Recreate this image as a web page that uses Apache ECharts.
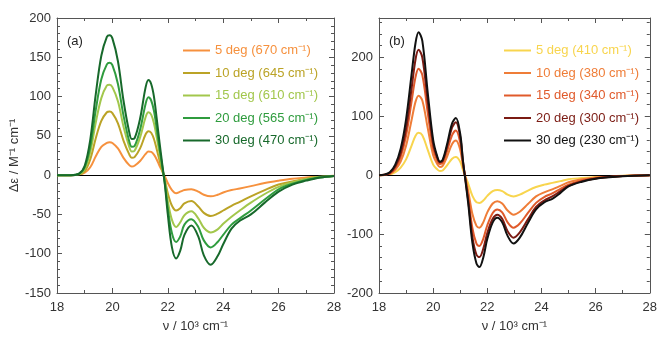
<!DOCTYPE html>
<html>
<head>
<meta charset="utf-8">
<script src="https://cdn.jsdelivr.net/npm/echarts@6/dist/echarts.min.js"></script>
<style>
  html, body { margin: 0; padding: 0; background: #fff; }
  #chart { width: 660px; height: 338px; }
</style>
</head>
<body>
<div id="chart"></div>
<script>
// panel (a) wavenumber grid, 10^3 cm^-1
const xL = [18, 18.5, 18.8, 19, 19.2, 19.4, 19.6, 19.8, 19.9, 20, 20.2, 20.4, 20.6, 20.7, 20.8, 21, 21.2, 21.3, 21.4, 21.5,
  21.6, 21.7, 21.8, 21.9, 22, 22.15, 22.3, 22.45, 22.6, 22.85, 23.1, 23.3, 23.55, 23.8, 24, 24.3, 24.6, 25, 25.5, 26,
  26.5, 27, 27.5, 28];
const a5 = [0, 0, 0.5, 3, 10, 24, 36, 41, 42, 41, 34, 22, 13, 11, 12, 18, 27, 30, 29.5, 26,
  20, 12, 5, -2, -10, -19, -23, -21, -19, -18, -21, -25, -27, -25, -22, -19, -17, -14, -10, -7,
  -4.5, -3, -1.5, -0.8];
const a10 = [0, 0, 1, 5, 20, 47, 69, 80, 81, 79, 66, 44, 27, 22, 23, 34, 52, 56, 54, 46,
  33, 19, 6, -7, -23, -39, -45, -42, -36, -33, -40, -48, -52, -49, -45, -39, -34, -27, -19, -12,
  -8, -4.5, -2, -1];
const a15 = [0, 0, 1, 8, 29, 67, 98, 114, 115, 112, 94, 62, 37, 30, 31, 48, 74, 80, 77, 66,
  48, 28, 9, -9, -33, -57, -66, -60, -51, -46, -55, -67, -73, -69, -62, -53, -45, -35, -24, -15,
  -9, -5, -2, -1];
const a20 = [0, 0, 2, 10, 36, 83, 122, 141, 143, 140, 116, 76, 44, 36, 37, 58, 91, 99, 95, 82,
  59, 34, 11, -12, -42, -74, -85, -78, -63, -56, -66, -83, -92, -85, -76, -63, -55, -45, -31, -18,
  -11, -6, -3, -1];
const a30 = [0, 0, 2, 12, 45, 103, 152, 176, 178, 174, 145, 95, 56, 46, 47, 72, 112, 121, 116, 100,
  72, 42, 14, -14, -50, -92, -106, -96, -76, -64, -78, -102, -114, -103, -88, -68, -58, -50, -35, -21,
  -12, -7, -3, -1];

// panel (b)
const xR = [18, 18.2, 18.4, 18.6, 18.8, 19, 19.2, 19.35, 19.46, 19.6, 19.8, 20, 20.15, 20.25, 20.35, 20.5, 20.7, 20.84,
  21, 21.1, 21.2, 21.3, 21.45, 21.6, 21.71, 21.85, 22, 22.2, 22.37, 22.55, 22.75, 22.97, 23.2, 23.5, 23.8, 24.1,
  24.4, 24.7, 25, 25.5, 26, 26.5, 27, 27.5, 28];
const b5 = [0, 0.3, 1, 5, 13, 27, 50, 67, 72, 68, 43, 18, 10, 7, 8, 16, 28, 31,
  23, 9, -3, -15, -35, -46, -47, -43, -35, -27, -25, -27, -33, -36, -33, -26, -20, -16,
  -13, -10, -7, -4.5, -3, -1.8, -1, -0.4, 0];
const b10 = [0, 0.5, 2, 9, 23, 50, 93, 125, 135, 127, 80, 34, 19, 14, 16, 30, 53, 59,
  43, 16, -6, -28, -66, -86, -89, -80, -63, -48, -44, -48, -60, -67, -62, -49, -36, -29,
  -24, -18, -12, -7, -4, -2.2, -1.1, -0.5, 0];
const b15 = [0, 1, 3, 12, 31, 67, 124, 167, 181, 170, 106, 45, 25, 19, 21, 39, 68, 76,
  55, 20, -8, -38, -90, -116, -120, -108, -85, -64, -58, -63, -80, -89, -82, -64, -47, -37,
  -31, -23, -16, -9, -5, -2.8, -1.4, -0.6, 0];
const b20 = [0, 1, 4, 15, 37, 79, 146, 197, 213, 200, 125, 53, 30, 22, 24, 46, 81, 90,
  65, 24, -10, -45, -105, -135, -139, -125, -98, -74, -67, -74, -95, -106, -97, -75, -54, -43,
  -36, -27, -18, -10, -5.5, -3, -1.5, -0.6, 0];
const b30 = [0, 1, 5, 18, 45, 95, 170, 225, 243, 228, 140, 60, 32, 23, 26, 50, 88, 97,
  70, 25, -12, -50, -115, -150, -156, -140, -108, -80, -72, -80, -103, -116, -106, -81, -58, -46,
  -40, -30, -19, -11, -6, -3.5, -1.7, -0.7, 0];

const namesA = ['5 deg (670 cm⁻¹)', '10 deg (645 cm⁻¹)', '15 deg (610 cm⁻¹)', '20 deg (565 cm⁻¹)', '30 deg (470 cm⁻¹)'];
const namesB = ['5 deg (410 cm⁻¹)', '10 deg (380 cm⁻¹)', '15 deg (340 cm⁻¹)', '20 deg (300 cm⁻¹)', '30 deg (230 cm⁻¹)'];
const colorsA = ['#f6913e', '#bba326', '#a2c74c', '#2f9c3e', '#17692b'];
const colorsB = ['#f8d54e', '#ef7d38', '#e05a2b', '#7b1b13', '#111111'];
const dataA = [a5, a10, a15, a20, a30];
const dataB = [b5, b10, b15, b20, b30];

const font = 'Liberation Sans, Arial, sans-serif';
const axisColor = '#555';
const labelColor = '#333';

const grids = [
  { left: 57, top: 18, width: 277, height: 278 },
  { left: 379, top: 18, width: 277, height: 278 }
];

function xAxisPair(gi) {
  const base = {
    type: 'value', gridIndex: gi, min: 18, max: 28, interval: 2,
    axisLine: { show: true, onZero: false, lineStyle: { color: axisColor, width: 1 } },
    axisTick: { show: true, inside: true, length: 5, lineStyle: { color: axisColor } },
    minorTick: { show: true, splitNumber: 2, length: 3, lineStyle: { color: axisColor } },
    splitLine: { show: false }
  };
  return [
    Object.assign({}, base, {
      position: 'bottom',
      name: 'ν / 10³ cm⁻¹', nameLocation: 'middle', nameGap: 27,
      nameTextStyle: { fontFamily: font, fontSize: 13, color: labelColor },
      axisLabel: { fontFamily: font, fontSize: 13, color: labelColor, margin: 8 }
    }),
    Object.assign({}, base, { position: 'top', axisLabel: { show: false } })
  ];
}

function yAxesA() {
  const base = {
    type: 'value', gridIndex: 0, min: -150, max: 200, interval: 50,
    axisLine: { show: true, onZero: false, lineStyle: { color: axisColor, width: 1 } },
    axisTick: { show: true, inside: true, length: 5, lineStyle: { color: axisColor } },
    minorTick: { show: true, splitNumber: 5, length: 3, lineStyle: { color: axisColor } },
    splitLine: { show: false }
  };
  return [
    Object.assign({}, base, {
      position: 'left',
      name: 'Δε / M⁻¹ cm⁻¹', nameLocation: 'middle', nameGap: 31, nameRotate: 90,
      nameTextStyle: { fontFamily: font, fontSize: 13, color: labelColor },
      axisLabel: { fontFamily: font, fontSize: 13, color: labelColor, margin: 6 }
    }),
    Object.assign({}, base, { position: 'right', axisLabel: { show: false } })
  ];
}

function yAxesB() {
  const major = {
    type: 'value', gridIndex: 1, min: -200, max: 267, interval: 100,
    axisLine: { show: true, onZero: false, lineStyle: { color: axisColor, width: 1 } },
    axisTick: { show: true, inside: true, length: 5, lineStyle: { color: axisColor } },
    splitLine: { show: false }
  };
  const minor = {
    type: 'value', gridIndex: 1, min: -200, max: 267, interval: 20,
    axisLine: { show: false },
    axisTick: { show: true, inside: true, length: 3, lineStyle: { color: axisColor } },
    axisLabel: { show: false },
    splitLine: { show: false }
  };
  return [
    Object.assign({}, major, {
      position: 'left',
      axisLabel: { fontFamily: font, fontSize: 13, color: labelColor, margin: 6, showMaxLabel: false }
    }),
    Object.assign({}, major, { position: 'right', axisLabel: { show: false } }),
    Object.assign({}, minor, { position: 'left' }),
    Object.assign({}, minor, { position: 'right' })
  ];
}

const series = [];
dataA.forEach((vals, i) => {
  series.push({
    name: namesA[i], type: 'line', xAxisIndex: 0, yAxisIndex: 0,
    data: xL.map((x, j) => [x, vals[j]]),
    smooth: 0.35, showSymbol: false, color: colorsA[i],
    lineStyle: { width: 2, color: colorsA[i] },
    z: 3 + i
  });
});
dataB.forEach((vals, i) => {
  series.push({
    name: namesB[i], type: 'line', xAxisIndex: 2, yAxisIndex: 2,
    data: xR.map((x, j) => [x, vals[j]]),
    smooth: 0.35, showSymbol: false, color: colorsB[i],
    lineStyle: { width: 2, color: colorsB[i] },
    z: 3 + i
  });
});
// zero lines
[0, 5].forEach(k => {
  series[k].markLine = {
    silent: true, symbol: 'none', label: { show: false },
    lineStyle: { color: '#000', width: 1, type: 'solid' },
    data: [{ yAxis: 0 }]
  };
});

function legendFor(names, colors, left) {
  return {
    orient: 'vertical', left: left, top: 39,
    itemWidth: 27, itemHeight: 2, itemGap: 9.5, icon: 'rect',
    textStyle: { fontFamily: font, fontSize: 13 },
    data: names.map((n, i) => ({ name: n, textStyle: { color: colors[i] } })),
    selectedMode: false
  };
}

const chart = echarts.init(document.getElementById('chart'), null, { renderer: 'canvas' });
chart.setOption({
  animation: false,
  backgroundColor: '#fff',
  title: [
    { text: '(a)', left: 62, top: 30, textStyle: { fontFamily: font, fontSize: 13, fontWeight: 'normal', color: '#222' } },
    { text: '(b)', left: 384, top: 30, textStyle: { fontFamily: font, fontSize: 13, fontWeight: 'normal', color: '#222' } }
  ],
  legend: [legendFor(namesA, colorsA, 178), legendFor(namesB, colorsB, 499)],
  grid: grids,
  xAxis: xAxisPair(0).concat(xAxisPair(1)),
  yAxis: yAxesA().concat(yAxesB()),
  series: series
});
</script>
</body>
</html>
